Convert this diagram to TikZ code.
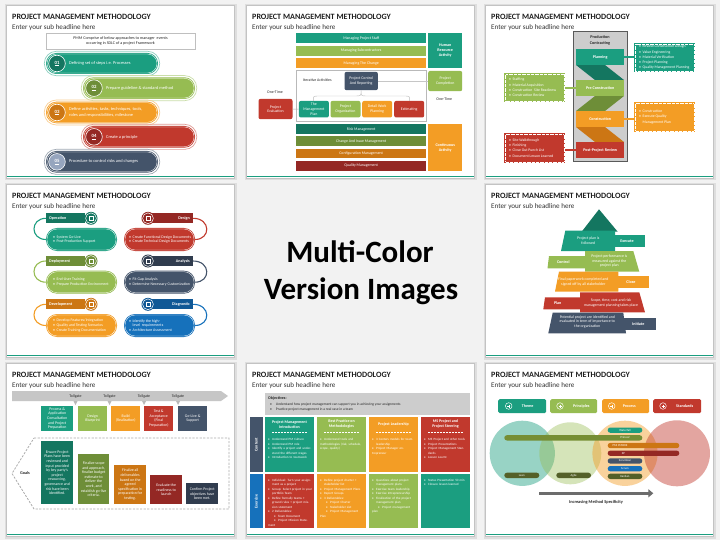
\documentclass[tikz,border=0pt]{standalone}
\usepackage{fontspec}
\setmainfont{Carlito}
\usetikzlibrary{arrows.meta}
\definecolor{bgc}{RGB}{242,242,242}
\definecolor{shd}{RGB}{195,195,195}
\definecolor{cteal}{RGB}{27,158,128}
\definecolor{ctealD}{RGB}{20,118,96}
\definecolor{cgreen}{RGB}{150,188,82}
\definecolor{cgreenD}{RGB}{110,142,56}
\definecolor{corange}{RGB}{243,157,37}
\definecolor{corangeD}{RGB}{204,118,20}
\definecolor{cred}{RGB}{193,57,45}
\definecolor{credD}{RGB}{148,40,36}
\definecolor{cnavy}{RGB}{68,84,106}
\definecolor{cnavyD}{RGB}{48,60,78}
\definecolor{cnavyL}{RGB}{150,165,190}
\definecolor{cblue}{RGB}{22,113,187}
\definecolor{cblueD}{RGB}{16,88,150}
\definecolor{colive}{RGB}{84,96,40}
\definecolor{cprince}{RGB}{118,142,52}
\definecolor{cgrayL}{RGB}{205,205,205}
\tikzset{
 cardtitle/.style={anchor=base west,inner sep=0,text=black!88,font=\bfseries\fontsize{8.1}{9}\selectfont},
 cardsub/.style={anchor=base west,inner sep=0,text=black!80,font=\fontsize{7.1}{8}\selectfont},
 wt/.style={text=white,inner sep=0,align=center,font=\fontsize{3.9}{4.6}\selectfont},
 wb/.style={text=white,inner sep=0,align=center,font=\bfseries\fontsize{4.1}{5}\selectfont},
 dt/.style={text=black!85,inner sep=0,align=center,font=\fontsize{3.9}{4.8}\selectfont},
 db/.style={text=black!85,inner sep=0,align=center,font=\bfseries\fontsize{4.2}{6}\selectfont},
 numlab/.style={text=white,inner sep=0,font=\bfseries\fontsize{4.8}{5}\selectfont},
 pilltext/.style={text=white,inner sep=0,anchor=west,align=left,font=\fontsize{4.4}{5.4}\selectfont},
 listt/.style={text=white,inner sep=0,align=left,font=\fontsize{3.8}{5.3}\selectfont},
 cellt/.style={text=white,inner sep=0,align=left,text width=44pt,font=\fontsize{3.25}{4.5}\selectfont},
 mpill/.style={text=white,inner sep=0,font=\fontsize{3}{3.2}\selectfont},
}
\newcommand\mybul{\textbullet\hspace{1.6pt}}
\newcommand\cbi[1]{\par\hangindent=4pt\hangafter=1\noindent\makebox[4pt][l]{\textbullet}#1}
\newcommand\cbii[1]{\par\hangindent=10pt\hangafter=1\noindent\hspace*{6pt}\makebox[4pt][l]{\textbullet}#1}
% card frame
\newcommand\card[3]{%
 \begin{scope}[shift={(#1,#2)}]
  \fill[shd!55] (5,4) rectangle (236.5,180.5);
  \fill[shd] (6,5) rectangle (235.3,179.3);
  \fill[white] (7,6) rectangle (234,178);
  \draw[cteal,line width=1.4] (7,176.3) -- (234,176.3);
  \node[cardtitle] (#3t) at (12,19.2) {PROJECT MANAGEMENT METHODOLOGY};
  \node[cardsub] (#3s) at (12,29.3) {Enter your sub headline here};
 \end{scope}}
% filled box node
\newcommand\bx[8]{\node[fill=#6,minimum width={(#4)-(#2)},minimum height={(#5)-(#3)},inner sep=0,anchor=north west,#7] (#1) at (#2,#3) {#8};}
% slide 1 pill
\newcommand\pillrow[9]{%
 \draw[#6!50,line width=0.7,rounded corners=12] ({#2-1.7},{#3-1.7}) rectangle ({#4+1.7},{#5+1.7});
 \fill[#6,rounded corners=10.5] (#2,#3) rectangle (#4,#5);
 \draw[white,line width=0.35,rounded corners=9.5] ({#2+1},{#3+1}) rectangle ({#4-1},{#5-1});
 \fill[#7] ({#2+11},{(#3+#5)/2}) circle (8.3pt);
 \draw[white,line width=0.6] ({#2+11},{(#3+#5)/2}) circle (8.3pt);
 \node[numlab] (#1n) at ({#2+11},{(#3+#5)/2}) {\underline{#8}};
 \node[pilltext] (#1x) at ({#2+23},{(#3+#5)/2}) {#9};}
% slide 3 list box
\newcommand\lbx[7]{%
 \node[fill=#6,minimum width={(#4)-(#2)},minimum height={(#5)-(#3)},inner sep=0,anchor=north west] (#1) at (#2,#3) {};
 \draw[white,line width=0.35,dash pattern=on 0.8pt off 0.5pt] ([shift={(1.6pt,-1.6pt)}]#1.north west) rectangle ([shift={(-1.6pt,1.6pt)}]#1.south east);
 \node[listt,anchor=west] (#1x) at ({(#2)+5},{((#3)+(#5))/2}) {#7};}
% slide 4 steps
\newcommand\stepL[6]{%
 \draw[#3,line width=1.1] (46,{#2+5}) .. controls (30,{#2+5}) and (30,{#2+26.2}) .. (46,{#2+26.2});
 \fill[#4] (46,#2) rectangle (85,{#2+10});
 \node[wb,anchor=west] (#1t) at (49,{#2+5}) {#5};
 \fill[#3,rounded corners=11] (46,{#2+14.7}) rectangle (117,{#2+37.7});
 \draw[white,line width=0.35,rounded corners=10] (47,{#2+15.7}) rectangle (116,{#2+36.7});
 \fill[#4] (91,{#2+5}) circle (6.5pt);
 \draw[white,line width=0.5] (91,{#2+5}) circle (5.4pt);
 \draw[white,line width=0.4] (89,{#2+3}) rectangle (93,{#2+7});
 \node[wt,anchor=west,align=left] (#1b) at (53,{#2+26.2}) {#6};}
\newcommand\stepR[6]{%
 \draw[#3,line width=1.1] (193,{#2+5}) .. controls (211,{#2+5}) and (211,{#2+26.2}) .. (195,{#2+26.2});
 \fill[#4] (152,#2) rectangle (193,{#2+10});
 \node[wb,anchor=east] (#1t) at (190,{#2+5}) {#5};
 \fill[#3,rounded corners=11] (124,{#2+14.7}) rectangle (195,{#2+37.7});
 \draw[white,line width=0.35,rounded corners=10] (125,{#2+15.7}) rectangle (194,{#2+36.7});
 \fill[#4] (148,{#2+5}) circle (6.5pt);
 \draw[white,line width=0.5] (148,{#2+5}) circle (5.4pt);
 \draw[white,line width=0.4] (146,{#2+3}) rectangle (150,{#2+7});
 \node[wt,anchor=west,align=left] (#1b) at (129,{#2+26.2}) {#6};}
% slide 7 cells
\newcommand\cellc[5]{%
 \fill[#3] (#2,417.3) rectangle ({#2+49},472);
 \node[wb,font=\bfseries\fontsize{4}{5}\selectfont] (#1h) at ({#2+24.5},424.2) {#4};
 \draw[white,line width=0.5,densely dotted] ({#2+8},432.5) -- ({#2+41},432.5);
 \fill[white] ({#2+7},431.6) rectangle ({#2+8.8},433.4);
 \fill[white] ({#2+40.2},431.6) rectangle ({#2+42},433.4);
 \node[cellt,anchor=north west] (#1b) at ({#2+3},436) {#5};}
\newcommand\celle[4]{%
 \fill[#3] (#2,474) rectangle ({#2+49},528.3);
 \node[cellt,anchor=north west] (#1b) at ({#2+3},476.5) {#4};}
% slide 8 method pills
\newcommand\mpl[7]{%
 \fill[#5,rounded corners=2.6] (#2,#3) rectangle (#4,{#3+5.3});
 \node[mpill] (#1) at (#6,{#3+2.65}) {#7};}
\begin{document}
\begin{tikzpicture}[x=1pt,y=-1pt]
\useasboundingbox (0,0) rectangle (720,540);
\fill[bgc] (0,0) rectangle (720,540);
\card{0}{0}{a}\card{240}{0}{b}\card{479}{0}{c}
\card{0}{179}{d}\card{479}{179}{e}
\card{0}{358}{f}\card{240}{358}{g}\card{479}{358}{h}

% ===== Slide 1 =====
\draw[gray!50,line width=0.4] (46,33.3) rectangle (195,49.3);
\node[dt,font=\fontsize{4.1}{5}\selectfont] (pmm) at (120.5,41.3) {PMM Comprise of below approaches to manager\ \ events\\occurring in SDLC of a project Framework};
\pillrow{pa}{46}{53}{158}{74}{cteal}{ctealD}{01}{Defining set of steps i.e. Processes}
\pillrow{pb}{83}{77.3}{195}{99}{cgreen}{cgreenD}{02}{Prepare guideline \& standard method}
\pillrow{pc}{46}{101.7}{158}{123.3}{corange}{corangeD}{03}{Define activities, tasks, techniques, tools,\\roles and responsibilities, milestone}
\pillrow{pd}{83}{126}{195}{147.7}{cred}{credD}{04}{Create a principle}
\pillrow{pe}{46}{151}{158}{172.7}{cnavy}{cnavyL}{05}{Procedure to control risks and changes}

% ===== Slide 2 =====
\bx{b1}{296}{33.3}{426}{43.3}{cteal}{wt}{Managing Project Staff}
\bx{b2}{296}{45.7}{426}{55.7}{cgreen}{wt}{Managing Subcontractors}
\bx{b3}{296}{58}{426}{68}{corange}{wt}{Managing The Change}
\bx{hra}{428}{33.3}{462}{68}{cteal}{wb}{Human\\Resource\\Activity}
\draw[gray!55,line width=0.4] (296,70) rectangle (426,121.7);
\node[dt,anchor=west] (iter) at (303,80.3) {Iterative Activities};
\bx{pcr}{344.3}{71.7}{377.7}{90}{cnavy}{wt,rounded corners=2pt}{Project Control\\And Reporting}
\bx{mp}{298.7}{100.7}{328.7}{117.3}{cteal}{wt,rounded corners=2pt}{The\\Management\\Plan}
\bx{po}{330.3}{100.7}{360.3}{117.3}{cgreen}{wt,rounded corners=2pt}{Project\\Organization}
\bx{dw}{362}{100.7}{392}{117.3}{corange}{wt,rounded corners=2pt}{Detail Work\\Planning}
\bx{est}{394}{100.7}{424}{117.3}{cred}{wt,rounded corners=2pt}{Estimating}
\bx{pev}{258.3}{98.7}{292.3}{119}{cred}{wt,rounded corners=2pt}{Project\\Evaluation}
\node[dt] (ot1) at (275,92.3) {One-Time};
\bx{pcomp}{428}{70.7}{462}{91}{cgreen}{wt,rounded corners=2pt}{Project\\Completion}
\node[dt] (ot2) at (444.3,99) {One-Time};
\draw[gray!60,line width=0.5] (pev.east) -- (mp.west);
\draw[gray!45,line width=0.5] (pcr.east) -- (pcomp.west);
\draw[gray!55,line width=0.4] (313.3,101) .. controls (313.3,96) .. (319,96) -- (355,96) .. controls (361,96) .. (pcr.south) .. controls (361,96) .. (367,96) -- (404,96) .. controls (409.7,96) .. (409.7,101);
\bx{r1}{296}{124}{426}{133.7}{ctealD}{wt}{Risk Management}
\bx{r2}{296}{136.3}{426}{146}{cgreenD}{wt}{Change And Issue Management}
\bx{r3}{296}{148.7}{426}{158.3}{corangeD}{wt}{Configuration Management}
\bx{r4}{296}{160.7}{426}{170.7}{credD}{wt}{Quality Management}
\bx{ca}{428}{124}{462}{170.7}{corange}{wb}{Continuous\\Activity}

% ===== Slide 3 =====
\fill[cgrayL] (573,31) rectangle (627,161);
\draw[gray!70!black,line width=0.6] (573,31) rectangle (627,161);
\node[db] (pcon) at (600,40) {Production\\Contracting};
\fill[ctealD] (576,65) -- (605,65) -- (624,80) -- (595,80) -- cycle;
\fill[cgreenD] (624,96) -- (595,96) -- (576,111) -- (605,111) -- cycle;
\fill[corangeD] (576,127) -- (605,127) -- (624,142) -- (595,142) -- cycle;
\bx{pl}{576}{49}{624}{65}{cteal}{wb}{Planning}
\bx{prc}{576}{80}{624}{96}{cgreen}{wb}{Pre Construction}
\bx{cons}{576}{111}{624}{127}{corange}{wb}{Construction}
\bx{ppr}{576}{142}{624}{158}{cred}{wb}{Post-Project Review}
\lbx{rb1}{634}{42.7}{695}{72}{cteal}{\mybul Review Construction Design\\\mybul Value Engineering\\\mybul Material Verification\\\mybul Project Planning\\\mybul Quality Management Planning}
\lbx{lb1}{504}{73}{565}{102}{cgreen}{\mybul Staffing\\\mybul Material Acquisition\\\mybul Construction\ \ Site Readiness\\\mybul Construction Review}
\lbx{rb2}{634}{102}{695}{132}{corange}{\mybul Construction\\\mybul Execute Quality\\\phantom{\mybul}Management Plan}
\lbx{lb2}{504}{133}{565}{163}{cred}{\mybul Site Walkthrough\\\mybul Finishing\\\mybul Close Out Punch List\\\mybul Document Lesson Learned}
\draw[cteal,line width=1.8] (pl.east) -- (rb1.west |- pl.east);
\draw[cgreen,line width=1.8] (lb1.east |- prc.west) -- (prc.west);
\draw[corange,line width=1.8] (cons.east) -- (rb2.west |- cons.east);
\draw[cred,line width=1.8] (lb2.east |- ppr.west) -- (ppr.west);

% ===== Slide 4 =====
\stepL{op}{213.3}{cteal}{ctealD}{Operation}{\mybul System Go-Live\\\mybul Post-Production Support}
\stepL{dep}{256}{cgreen}{cgreenD}{Deployment}{\mybul End-User Training\\\mybul Prepare Production Environment}
\stepL{dev}{299.3}{corange}{corangeD}{Development}{\mybul Develop Features/Integration\\\mybul Quality and Testing Scenarios\\\mybul Create Training Documentation}
\stepR{des}{213.3}{cred}{credD}{Design}{\mybul Create Functional Design Documents\\\mybul Create Technical Design Documents}
\stepR{ana}{256}{cnavy}{cnavyD}{Analysis}{\mybul Fit Gap Analysis\\\mybul Determine Necessary Customization}
\stepR{dia}{299.3}{cblue}{cblueD}{Diagnostic}{\mybul Identify the high-\\\phantom{\mybul}level\ \ requirements\\\mybul Architecture Assessment}

% ===== Slide 5 =====
\fill[ctealD] (599,209.3) -- (617.7,231.7) -- (581.7,231.7) -- cycle;
\fill[cteal] (565.3,230.7) -- (615,230.7) -- (615,251) -- (561,251) -- cycle;
\fill[cteal] (610,235) rectangle (645,246.7);
\node[wt] (ex1) at (588.3,240.7) {Project plan is\\followed};
\node[wb] (ex2) at (627,240.8) {Execute};
\fill[cgreen] (585,251) -- (633.3,251) -- (639.3,271.7) -- (585,271.7) -- cycle;
\fill[cgreen] (549,256) -- (590,256) -- (590,268.3) -- (547.5,268.3) -- cycle;
\node[wt] (co1) at (609.3,261) {Project performance is\\measured against the\\project plan};
\node[wb] (co2) at (563.3,262.2) {Control};
\fill[corange] (559,271.7) -- (618.3,271.7) -- (618.3,291.7) -- (555,291.7) -- cycle;
\fill[corange] (613.3,276) rectangle (649,287.7);
\node[wt] (cl1) at (583.3,281.7) {Final paperwork completed and\\signed off by all stakeholder};
\node[wb] (cl2) at (631,281.8) {Close};
\fill[cred] (580,292.3) -- (639.3,292.3) -- (645,312.3) -- (580,312.3) -- cycle;
\fill[cred] (545,297.3) -- (580,297.3) -- (580,309.3) -- (543.3,309.3) -- cycle;
\node[wt] (pl1) at (611,302.7) {Scope, time, cost and risk\\management planning takes place};
\node[wb] (pl2) at (557.7,303.3) {Plan};
\fill[cnavy] (552.7,312.7) -- (623.3,312.7) -- (626,333.3) -- (548.3,333.3) -- cycle;
\fill[cnavy] (620,318.3) rectangle (655.7,330);
\node[wt] (in1) at (587.3,321.7) {Potential project are identified and\\evaluated in term of importance to\\the organization};
\node[wb] (in2) at (638.3,324.1) {Initiate};

% ===== Slide 6 =====
\fill[gray!45] (12,391) -- (221,391) -- (228,396) -- (221,401) -- (12,401) -- cycle;
\foreach \tx/\tn in {75.5/t1,109.5/t2,144/t3,178/t4}{
 \node[dt,font=\fontsize{3.9}{4}\selectfont] (\tn) at (\tx,396) {Tollgate};
 \fill[gray!55] (\tx-2,401) -- (\tx+2,401) -- (\tx,405) -- cycle;}
\bx{g1}{41}{405.7}{73}{431}{cteal}{wt}{Process \&\\Application\\Consultation\\and Project\\Preparation}
\bx{g2}{78}{405.7}{107}{431}{cgreen}{wt}{Design\\Blueprint}
\bx{g3}{111}{405.7}{140}{431}{corange}{wt}{Build\\(Realization)}
\bx{g4}{144}{405.7}{173}{431}{cred}{wt}{Test \&\\Acceptance\\(Final\\Preparation)}
\bx{g5}{178}{405.7}{207}{431}{cnavy}{wt}{Go-Live \&\\Support}
\draw[gray!65,line width=0.8,dash pattern=on 2.2pt off 1.4pt] (34,438) -- (229,438) -- (229,509) -- (34,509) -- (12,473.5) -- cycle;
\node[db,font=\bfseries\fontsize{4.2}{5}\selectfont] (goals) at (25,473.5) {Goals};
\bx{h1}{41}{441}{73}{504}{ctealD}{wt}{Ensure Project\\Plans have been\\reviewed and\\input provided\\by key party's\\project\\resourcing,\\governance and\\risk have been\\identified.}
\bx{h2}{78}{454}{109}{504}{cgreenD}{wt}{Finalize scope\\and approach,\\finalize budget\\estimate to\\deliver the\\work, and\\establish go-live\\criteria.}
\bx{h3}{114}{465}{146}{504}{corangeD}{wt}{Finalize all\\deliverables\\based on the\\agreed\\specification in\\preparation for\\testing.}
\bx{h4}{150}{475}{182}{504}{credD}{wt}{Evaluate the\\readiness to\\launch}
\bx{h5}{186}{483}{218}{504}{cnavyD}{wt}{Confirm Project\\objectives have\\been met.}

% ===== Slide 7 =====
\fill[cgrayL] (265,393.3) rectangle (470,415);
\node[anchor=west,inner sep=0,text=black!85,font=\bfseries\fontsize{4}{4.5}\selectfont] (obj) at (268,398.3) {Objectives:};
\node[anchor=north west,inner sep=0,align=left,text=black!85,font=\fontsize{3.6}{5}\selectfont] (objl) at (270,402.6) {\textbullet\hspace{4pt}Understand how project management can support you in achieving your assignments\\\textbullet\hspace{4pt}Practice project management in a real case in a team};
\fill[cnavy] (250,417.3) rectangle (262.7,472);
\node[wb,rotate=90] (cont) at (256.3,444.7) {Content};
\fill[cblue] (250,474) rectangle (262.7,528.3);
\node[wb,rotate=90] (exer) at (256.3,501.2) {Exercise};
\cellc{ca1}{265}{cteal}{Project Management\\Introduction}{\cbi{Understand PM Culture}\cbi{Understand PM role}\cbi{Identify a project and understand the different stages}\cbi{Introduction to teamwork}}
\cellc{ca2}{317}{cgreen}{Best Practice on\\Methodologies}{\cbi{Understand tools and methodologies (risk, schedule, scope, quality)}}
\cellc{ca3}{369}{corange}{Project Leadership}{\cbi{3 Centers models for team leadership}\cbi{Project Manager entrepreneur}}
\cellc{ca4}{421}{cred}{MS Project and\\Project Steering}{\cbi{MS Project and other tools}\cbi{Project Presentations}\cbi{Project Management Standards}\cbi{Lesson Learnt}}
\celle{cb1}{265}{cred}{\cbi{Individual: Turn your assignment as a project}\cbi{Group: Select project in your portfolio Team}\cbi{Define formally teams + ground rules + project mission statement}\cbi{2 Deliverables:}\cbii{Team Document}\cbii{Project Mission Statement}}
\celle{cb2}{317}{corange}{\cbi{Define project charter + stakeholder list}\cbi{Project Management Plans}\cbi{Report Groups}\cbi{3 Deliverables:}\cbii{Project Charter}\cbii{Stakeholder List}\cbii{Project Management Plan}}
\celle{cb3}{369}{cgreen}{\cbi{Questions about project management plans}\cbi{Exercise team leadership}\cbi{Exercise Intrapreneurship}\cbi{Finalization of the project\ \ management plan}\cbii{Project management plan}}
\celle{cb4}{421}{cteal}{\cbi{Status Presentation 50 min}\cbi{Closure lesson learned}}

% ===== Slide 8 =====
\bx{k1}{498}{399}{546}{413}{cteal}{rounded corners=1.5pt}{}
\bx{k2}{550}{399}{597}{413}{cgreen}{rounded corners=1.5pt}{}
\bx{k3}{602}{399}{649}{413}{corange}{rounded corners=1.5pt}{}
\bx{k4}{653}{399}{701}{413}{cred}{rounded corners=1.5pt}{}
\node[wb] (k1t) at (527.7,406) {Theme};
\node[wb] (k2t) at (581.3,406) {Principles};
\node[wb] (k3t) at (629.3,406) {Process};
\node[wb] (k4t) at (684.7,406) {Standards};
\foreach \ix in {508.7,560,611.7,663}{
 \draw[white,line width=0.45] (\ix,406) circle (3.3pt);
 \draw[white,line width=0.35] (\ix-1.5,406) -- (\ix+1.5,406) (\ix,404.5) -- (\ix,407.5);}
\fill[cteal,fill opacity=0.45] (522.3,453.3) circle (32.6pt);
\fill[cgreen,fill opacity=0.4] (570.3,453.3) circle (31pt);
\fill[corange,fill opacity=0.45] (625,453.3) circle (32.6pt);
\fill[cred,fill opacity=0.45] (677,453.3) circle (33pt);
\mpl{m1}{607.7}{427.5}{642.3}{cteal}{625}{Waterfall}
\mpl{m2}{504.3}{435.2}{642.3}{cprince}{625}{Prince2}
\mpl{m3}{607.7}{442.9}{679.3}{corangeD}{620}{PMI PMBOK}
\mpl{m4}{607.7}{450.6}{679.3}{credD}{623.3}{XP}
\mpl{m5}{607.7}{458.3}{642.3}{cnavy}{625}{Scrumban}
\mpl{m6}{607.7}{466}{642.3}{cblue}{625}{Scrum}
\mpl{m7}{607.7}{473.7}{642.3}{colive}{625}{Kanban}
\mpl{m8}{504.3}{472.7}{539.3}{colive}{521.8}{Lean}
\mpl{m9}{556.3}{472.7}{591}{colive}{573.7}{Agile}
\coordinate (arA) at (539.3,493.3);
\coordinate (arB) at (653.3,493.3);
\draw[gray!85!black,line width=2.6,-{Triangle[length=5pt,width=8pt]}] (arA) -- (arB);
\node[db,font=\bfseries\fontsize{4.4}{5}\selectfont] (ims) at (596,502.3) {Increasing Method Specificity};

% ===== Centre =====
\node[anchor=base,inner sep=0,font=\bfseries\fontsize{31}{37}\selectfont] (mc1) at (360,262) {Multi-Color};
\node[anchor=base,inner sep=0,font=\bfseries\fontsize{31}{37}\selectfont] (mc2) at (361,299) {Version Images};
\end{tikzpicture}
\end{document}
